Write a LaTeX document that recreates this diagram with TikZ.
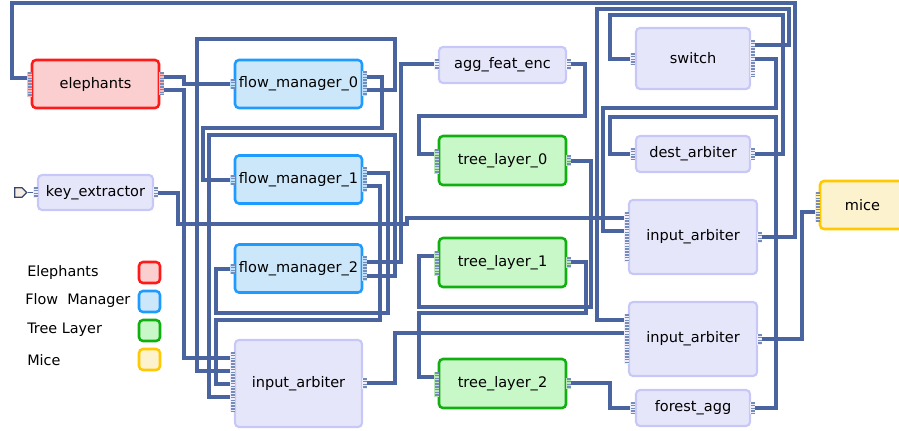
\documentclass[tikz,border=0pt]{standalone}
\usepackage{fontspec}
\setmainfont{DejaVu Sans}
\usepackage{xcolor}
\usepackage{tikz}
\usetikzlibrary{shapes.symbols}
\definecolor{wirec}{HTML}{4A64A0}
\definecolor{elefill}{HTML}{FBCFCF}
\definecolor{eledraw}{HTML}{FF1A1A}
\definecolor{fmfill}{HTML}{CDE7FA}
\definecolor{fmdraw}{HTML}{1E9BFF}
\definecolor{tlfill}{HTML}{C8F8C8}
\definecolor{tldraw}{HTML}{10B010}
\definecolor{micefill}{HTML}{FCF2CD}
\definecolor{micedraw}{HTML}{FFC800}
\definecolor{lavfill}{HTML}{E6E6FA}
\definecolor{lavdraw}{HTML}{C8C8F8}
\tikzset{
  blk/.style={draw, rounded corners=3pt, align=center,
              font=\fontsize{10.9}{12}\selectfont, inner sep=0pt},
  ele/.style={blk, fill=elefill, draw=eledraw, line width=1.9pt},
  fm/.style={blk, fill=fmfill, draw=fmdraw, line width=1.9pt},
  tl/.style={blk, fill=tlfill, draw=tldraw, line width=1.9pt},
  mc/.style={blk, fill=micefill, draw=micedraw, line width=1.9pt},
  lav/.style={blk, fill=lavfill, draw=lavdraw, line width=1.6pt},
  wire/.style={draw=wirec, line width=2.3pt},
  swatch/.style={draw, rounded corners=3pt, line width=1.9pt,
                 minimum width=15.75pt, minimum height=15.75pt},
  lgd/.style={anchor=west, inner sep=0pt, font=\fontsize{10.8}{12}\selectfont},
}

\begin{document}
\begin{tikzpicture}[x=0.75pt, y=-0.75pt]
  \useasboundingbox (0,0) rectangle (899,430);
  \node[ele, minimum width=95.25pt, minimum height=36pt] (elephants) at (95.5,84) {elephants};
  \node[lav, minimum width=86.25pt, minimum height=26.25pt] (keyext) at (95.5,192.5) {key\_extractor};
  \node[signal, signal to=east, draw=wirec!70!black, fill=brown!15, line width=0.9pt,
        minimum width=9pt, minimum height=7pt, inner sep=0pt] (keyin) at (18.5,192.5) {};
  \node[fm, minimum width=95.25pt, minimum height=36pt] (fm0) at (298.5,84) {flow\_manager\_0};
  \node[fm, minimum width=95.25pt, minimum height=36pt] (fm1) at (298.5,179.5) {flow\_manager\_1};
  \node[fm, minimum width=95.25pt, minimum height=36pt] (fm2) at (298.5,268.5) {flow\_manager\_2};
  \node[lav, minimum width=95.25pt, minimum height=65.25pt] (iaL) at (298.5,383.5) {input\_arbiter};
  \node[lav, minimum width=95.25pt, minimum height=27pt] (agg) at (502.5,65) {agg\_feat\_enc};
  \node[tl, minimum width=95.25pt, minimum height=36.75pt] (tl0) at (502.5,160.5) {tree\_layer\_0};
  \node[tl, minimum width=95.25pt, minimum height=36.75pt] (tl1) at (502.5,262.5) {tree\_layer\_1};
  \node[tl, minimum width=95.25pt, minimum height=36.75pt] (tl2) at (502.5,383.5) {tree\_layer\_2};
  \node[lav, minimum width=85.5pt, minimum height=45.75pt] (switch) at (693,58.5) {switch};
  \node[lav, minimum width=85.5pt, minimum height=27pt] (dest) at (693,154) {dest\_arbiter};
  \node[lav, minimum width=96pt, minimum height=55.5pt] (iaT) at (693,237) {input\_arbiter};
  \node[lav, minimum width=96pt, minimum height=55.5pt] (iaB) at (693,339) {input\_arbiter};
  \node[lav, minimum width=85.5pt, minimum height=27pt] (fagg) at (693,408) {forest\_agg};
  \node[mc, minimum width=63.75pt, minimum height=36pt] (mice) at (862.5,205) {mice};

  \node[lgd] (lgele) at (27,273) {Elephants};
  \node[lgd] (lgfm) at (25,301) {Flow\ \ Manager};
  \node[lgd] (lgtl) at (27,330) {Tree Layer};
  \node[lgd] (lgmc) at (27,360) {Mice};
  \node[swatch, draw=eledraw, fill=elefill] (swele) at (149.5,272.5) {};
  \node[swatch, draw=fmdraw, fill=fmfill] (swfm) at (149.5,301.5) {};
  \node[swatch, draw=tldraw, fill=tlfill] (swtl) at (149.5,330.5) {};
  \node[swatch, draw=micedraw, fill=micefill] (swmc) at (149.5,359.5) {};

  \draw[wire, line width=1.2pt] (keyin) -- (keyext);
  \draw[wire] (elephants.east |- 0,77) -- (184,77) -- (184,84) -- (fm0.west |- 0,84);
  \draw[wire] (elephants.east |- 0,90) -- (184,90) -- (184,358) -- (iaL.west |- 0,358);
  \draw[wire] (fm0.east |- 0,77) -- (382,77) -- (382,128) -- (203,128) -- (203,180) -- (fm1.west |- 0,180);
  \draw[wire] (fm0.east |- 0,90) -- (395,90) -- (395,39) -- (197,39) -- (197,371) -- (iaL.west |- 0,371);
  \draw[wire] (fm1.east |- 0,173) -- (388,173) -- (388,313) -- (216,313) -- (216,269) -- (fm2.west |- 0,269);
  \draw[wire] (fm1.east |- 0,186) -- (380,186) -- (380,320) -- (216,320) -- (216,384) -- (iaL.west |- 0,384);
  \draw[wire] (fm2.east |- 0,262) -- (401,262) -- (401,64) -- (agg.west |- 0,64);
  \draw[wire] (fm2.east |- 0,276) -- (395,276) -- (395,135) -- (209,135) -- (209,397) -- (iaL.west |- 0,397);
  \draw[wire] (keyext.east |- 0,193) -- (178,193) -- (178,224) -- (407,224) -- (407,218) -- (iaT.west |- 0,218);
  \draw[wire] (agg.east |- 0,64) -- (585,64) -- (585,116) -- (419,116) -- (419,154) -- (tl0.west |- 0,154);
  \draw[wire] (tl0.east |- 0,161) -- (591,161) -- (591,307) -- (419,307) -- (419,256) -- (tl1.west |- 0,256);
  \draw[wire] (tl1.east |- 0,262) -- (586,262) -- (586,313) -- (419,313) -- (419,377) -- (tl2.west |- 0,377);
  \draw[wire] (tl2.east |- 0,383) -- (610,383) -- (610,408) -- (fagg.west |- 0,408);
  \draw[wire] (iaL.east |- 0,383) -- (395,383) -- (395,333) -- (iaB.west |- 0,333);
  \draw[wire] (fagg.east |- 0,408) -- (776,408) -- (776,117) -- (610,117) -- (610,154) -- (dest.west |- 0,154);
  \draw[wire] (dest.east |- 0,154) -- (783,154) -- (783,15) -- (610,15) -- (610,59) -- (switch.west |- 0,59);
  \draw[wire] (switch.east |- 0,45) -- (789,45) -- (789,9) -- (597,9) -- (597,320) -- (iaB.west |- 0,320);
  \draw[wire] (switch.east |- 0,59) -- (776,59) -- (776,108) -- (603,108) -- (603,231) -- (iaT.west |- 0,231);
  \draw[wire] (iaT.east |- 0,237) -- (795,237) -- (795,3) -- (12,3) -- (12,78) -- (elephants.west |- 0,78);
  \draw[wire] (iaB.east |- 0,339) -- (802,339) -- (802,212) -- (mice.west |- 0,212);

  \foreach \xa/\ya/\yb/\pc in {27/72/97/eledraw, 159/72/95/eledraw, 33/187/198/lavdraw, 153/187/198/lavdraw,
      230/79/89/fmdraw, 362/71/96/fmdraw, 230/175/185/fmdraw, 362/167/192/fmdraw,
      230/264/274/fmdraw, 362/256/281/fmdraw, 230/352/412/lavdraw, 362/378/389/lavdraw,
      434/59/70/lavdraw, 566/59/70/lavdraw, 434/149/174/tldraw, 566/155/166/tldraw,
      434/251/276/tldraw, 566/257/268/tldraw, 434/372/397/tldraw, 566/378/389/tldraw,
      630/53/65/lavdraw, 750/40/77/lavdraw, 630/148/160/lavdraw, 750/148/160/lavdraw,
      624/212/262/lavdraw, 757/232/243/lavdraw, 624/314/364/lavdraw, 757/334/345/lavdraw,
      630/402/414/lavdraw, 750/402/414/lavdraw, 815/192/222/micedraw} {
    \fill[\pc!30] (\xa,\ya) rectangle ++(5,\yb-\ya);
    \draw[wirec!75, line width=3pt, dash pattern=on 1.2pt off 0.9pt] (\xa+2.5,\ya) -- (\xa+2.5,\yb);
  }
\end{tikzpicture}
\end{document}
